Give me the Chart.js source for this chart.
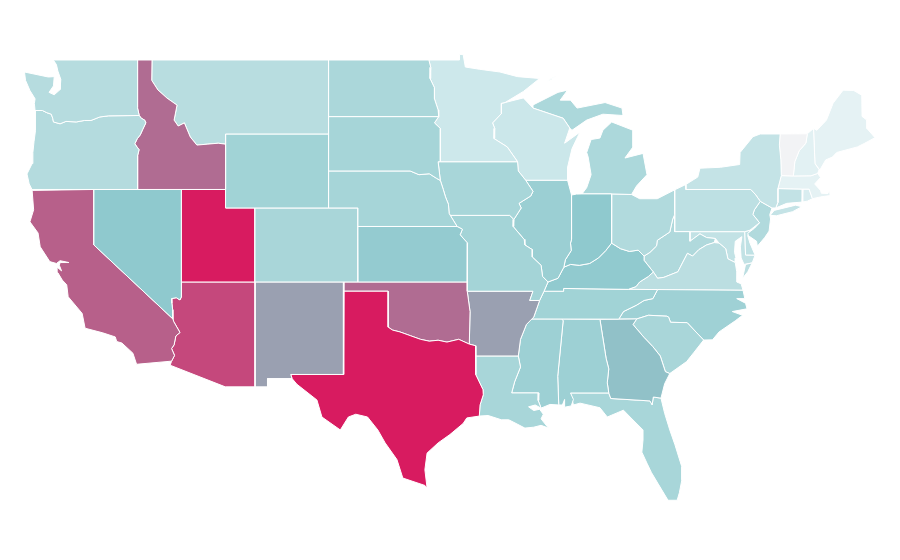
<!DOCTYPE html>
<html>
<head>
<meta charset="utf-8">
<title>US states choropleth</title>
<script src="https://cdn.jsdelivr.net/npm/chart.js@4/dist/chart.umd.min.js"></script>
<style>
  html, body { margin: 0; padding: 0; background: #fff; }
  canvas { display: block; }
</style>
</head>
<body>
<canvas id="map" width="900" height="560"></canvas>
<script>
// State values, estimated from the picture's colours
const stateCodes = ['WA','OR','ID','MT','WY','ND','SD','NE','KS','CO','UT','NV','CA','AZ','NM','TX','OK','MN','IA','MO','AR','LA','WI','IL','IN','MI','OH','KY','TN','MS','AL','GA','FL','SC','NC','VA','WV','PA','NY','VT','NH','ME','MA','CT','RI','NJ','DE','MD'];
const stateValues = [30,31,70,29,42,37,40,40,48,38,100,50,75,85,60,100,70,20,39,41,60,39,21,45,50,36,33,49,42,44,44,52,39,38,43,28,34,27,24,0,11,9,9,25,15,33,26,25];

// Colour scale
const rampStops = [0,10,20,30,40,50,60,70,75,85,100];
const rampColors = ['#f2f3f5','#e4f2f4','#cde8eb','#b6dcdf','#a6d5d8','#8fc9ce','#9aa0b1','#b06c92','#b7608a','#c5487c','#d81b60'];

// Outlines as [longitude, latitude], one list per land part
const WA = [[[-117.03,49],[-122.76,49],[-122.55,48.75],[-122.45,48.4],[-122.25,47.95],[-122.3,47.4],[-122.7,47.12],[-123.05,47.25],[-122.75,47.6],[-122.7,48.1],[-123.1,48.08],[-124.72,48.35],[-124.65,47.9],[-124.35,47.35],[-124,46.9],[-124.05,46.65],[-124.0,46.27],[-123.5,46.27],[-123.2,46.15],[-122.9,46.07],[-122.8,45.85],[-122.75,45.65],[-122.3,45.55],[-121.9,45.68],[-121.2,45.65],[-120.65,45.73],[-120.2,45.73],[-119.6,45.92],[-119.0,45.98],[-116.92,46.0],[-117.04,46.42]]];
const OR = [[[-124.0,46.27],[-123.5,46.27],[-123.2,46.15],[-122.9,46.07],[-122.8,45.85],[-122.75,45.65],[-122.3,45.55],[-121.9,45.68],[-121.2,45.65],[-120.65,45.73],[-120.2,45.73],[-119.6,45.92],[-119.0,45.98],[-116.92,46.0],[-116.78,45.85],[-116.55,45.75],[-116.47,45.6],[-116.68,45.25],[-116.85,44.95],[-117.05,44.75],[-117.22,44.47],[-117.03,44.25],[-116.93,44.15],[-117.03,43.83],[-117.03,42],[-124.21,42],[-124.4,42.3],[-124.55,42.84],[-124.2,43.4],[-124.15,44],[-124.07,44.6],[-123.97,45.2],[-123.95,45.9]]];
const ID = [[[-117.03,49],[-116.05,49],[-116.07,47.9],[-115.65,47.38],[-115.03,46.94],[-114.35,46.56],[-114.55,45.75],[-114.27,45.43],[-113.85,45.6],[-113.45,44.84],[-113.0,44.4],[-112.3,44.45],[-111.55,44.5],[-111.05,44.45],[-111.05,42],[-117.03,42],[-117.03,43.83],[-116.93,44.15],[-117.03,44.25],[-117.22,44.47],[-117.05,44.75],[-116.85,44.95],[-116.68,45.25],[-116.47,45.6],[-116.55,45.75],[-116.78,45.85],[-116.92,46],[-117.04,46.42]]];
const MT = [[[-116.05,49],[-104.05,49],[-104.05,45],[-111.05,45],[-111.05,44.45],[-111.55,44.5],[-112.3,44.45],[-113.0,44.4],[-113.45,44.84],[-113.85,45.6],[-114.27,45.43],[-114.55,45.75],[-114.35,46.56],[-115.03,46.94],[-115.65,47.38],[-116.07,47.9]]];
const WY = [[[-111.05,45],[-104.05,45],[-104.05,41],[-111.05,41]]];
const ND = [[[-104.05,49],[-97.23,49],[-97.1,48.6],[-97.15,48],[-96.85,47.5],[-96.85,46.9],[-96.6,46.3],[-96.56,45.94],[-104.05,45.94]]];
const SD = [[[-104.05,45.94],[-96.56,45.94],[-96.85,45.6],[-96.45,45.3],[-96.45,43.5],[-96.6,43.5],[-96.45,42.49],[-96.7,42.6],[-97.2,42.85],[-97.9,42.8],[-98.5,43],[-104.05,43]]];
const NE = [[[-104.05,43],[-98.5,43],[-97.9,42.8],[-97.2,42.85],[-96.7,42.6],[-96.45,42.49],[-96.25,42],[-96.1,41.6],[-95.9,41.2],[-95.85,40.7],[-95.31,40],[-102.05,40],[-102.05,41],[-104.05,41]]];
const KS = [[[-102.05,40],[-95.31,40],[-94.95,39.85],[-95.1,39.55],[-94.6,39.1],[-94.62,37],[-102.04,37]]];
const CO = [[[-109.05,41],[-102.05,41],[-102.05,37],[-109.05,37]]];
const UT = [[[-114.05,42],[-111.05,42],[-111.05,41],[-109.05,41],[-109.05,37],[-114.05,37]]];
const NV = [[[-120,42],[-114.05,42],[-114.05,36.2],[-114.15,36.03],[-114.4,36.15],[-114.72,36.1],[-114.7,35.85],[-114.65,35.5],[-114.63,35],[-120,39]]];
const CA = [[[-124.2,41.95],[-120,42],[-120,39],[-114.63,35],[-114.57,34.85],[-114.15,34.27],[-114.43,34.08],[-114.55,33.6],[-114.72,33.4],[-114.52,33.03],[-114.72,32.72],[-117.1,32.55],[-117.35,33.15],[-118.1,33.7],[-118.45,33.78],[-118.55,34.03],[-119.4,34.25],[-120.6,34.5],[-120.8,35.3],[-121.75,36.2],[-121.85,36.85],[-122.15,37.1],[-122.45,37.5],[-122.5,37.8],[-122.2,37.6],[-122.35,37.9],[-122.3,38.05],[-121.7,38.05],[-122.3,38.15],[-122.55,38],[-123,38.1],[-123.65,38.9],[-123.8,39.65],[-124.35,40.25],[-124.1,40.9]]];
const AZ = [[[-114.05,37],[-109.05,37],[-109.05,31.33],[-111.07,31.33],[-114.82,32.5],[-114.72,32.72],[-114.52,33.03],[-114.72,33.4],[-114.55,33.6],[-114.43,34.08],[-114.15,34.27],[-114.57,34.85],[-114.63,35],[-114.65,35.5],[-114.7,35.85],[-114.72,36.1],[-114.4,36.15],[-114.15,36.03],[-114.05,36.2]]];
const NM = [[[-109.05,37],[-103,37],[-103.04,32],[-106.62,32],[-106.53,31.78],[-108.2,31.78],[-108.2,31.33],[-109.05,31.33]]];
const OK = [[[-103,37],[-94.62,37],[-94.62,36.5],[-94.43,35.4],[-94.48,33.64],[-95.2,33.9],[-96,33.75],[-96.6,33.85],[-97.2,33.8],[-97.8,33.9],[-98.5,34.1],[-99.2,34.3],[-99.7,34.4],[-100,34.56],[-100,36.5],[-103,36.5]]];
const TX = [[[-103,36.5],[-100,36.5],[-100,34.56],[-99.7,34.4],[-99.2,34.3],[-98.5,34.1],[-97.8,33.9],[-97.2,33.8],[-96.6,33.85],[-96,33.75],[-95.2,33.9],[-94.48,33.64],[-94.04,33.55],[-94.04,33],[-94.04,31.99],[-93.55,31.18],[-93.53,30.9],[-93.75,30.35],[-93.8,29.75],[-94.65,29.65],[-94.9,29.35],[-95.8,28.75],[-96.6,28.3],[-97.35,27.75],[-97.5,26.85],[-97.35,25.86],[-97.5,26],[-99,26.4],[-99.4,27.4],[-100.2,28.3],[-100.7,29],[-101.4,29.7],[-102.2,29.85],[-102.7,29.7],[-103.25,29],[-104.5,29.7],[-104.84,30.62],[-106.2,31.47],[-106.53,31.78],[-106.62,32],[-103.04,32]]];
const MN = [[[-97.23,49],[-95.15,49],[-95.15,49.3],[-94.9,49.3],[-94.75,48.62],[-93.8,48.5],[-92.4,48.35],[-91.2,48.1],[-89.7,48],[-90.8,47.3],[-92.05,46.7],[-92.3,46.66],[-92.3,46.1],[-92.9,45.6],[-92.75,45.3],[-92.8,44.75],[-91.9,44.3],[-91.2,43.5],[-96.45,43.5],[-96.45,45.3],[-96.85,45.6],[-96.56,45.94],[-96.6,46.3],[-96.85,46.9],[-96.85,47.5],[-97.15,48],[-97.1,48.6]]];
const IA = [[[-96.45,43.5],[-91.2,43.5],[-91.15,43],[-90.65,42.5],[-90.15,41.9],[-90.3,41.65],[-91.1,41.25],[-90.95,41],[-91.45,40.38],[-91.73,40.6],[-95.77,40.6],[-95.85,40.7],[-95.9,41.2],[-96.1,41.6],[-96.25,42],[-96.45,42.49],[-96.6,43.5]]];
const MO = [[[-95.77,40.6],[-91.73,40.6],[-91.45,40.38],[-91.5,40],[-90.75,39.3],[-90.7,39],[-90.2,38.75],[-90.2,38.35],[-89.6,37.9],[-89.5,37.3],[-89.13,37],[-89.4,36.5],[-89.7,36],[-90.37,36],[-90.15,36.5],[-94.62,36.5],[-94.62,37],[-94.6,39.1],[-95.1,39.55],[-94.95,39.85],[-95.31,40],[-95.85,40.7]]];
const AR = [[[-94.62,36.5],[-90.15,36.5],[-90.37,36],[-89.7,36],[-90.1,35.1],[-90.6,34.7],[-91,33.9],[-91.15,33],[-94.04,33],[-94.04,33.55],[-94.48,33.64],[-94.43,35.4]]];
const LA = [[[-94.04,33],[-91.15,33],[-91,32.4],[-91.4,31.6],[-91.6,31],[-89.75,31],[-89.8,30.6],[-89.6,30.18],[-90,30.35],[-90.45,30.25],[-90.1,30.05],[-89.7,30.12],[-89.45,29.85],[-89.6,29.6],[-89.1,29.1],[-89.6,29.25],[-90.1,29.15],[-90.7,29.1],[-91.3,29.35],[-91.8,29.55],[-92.3,29.55],[-93.2,29.78],[-93.8,29.75],[-93.75,30.35],[-93.53,30.9],[-93.55,31.18],[-94.04,31.99]]];
const WI = [[[-92.2,46.67],[-90.8,46.95],[-90.15,46.4],[-88.1,45.85],[-87.65,45.32],[-88,44.5],[-86.96,45.1],[-87.5,44.2],[-87.8,43.2],[-87.8,42.5],[-90.65,42.5],[-91.15,43],[-91.2,43.5],[-91.9,44.3],[-92.8,44.75],[-92.75,45.3],[-92.9,45.6],[-92.3,46.1],[-92.3,46.66]]];
const IL = [[[-90.65,42.5],[-87.8,42.5],[-87.53,41.7],[-87.53,39.3],[-87.6,39.1],[-87.55,38.7],[-87.95,38.2],[-88.05,37.8],[-88.45,37.2],[-89.13,37],[-89.5,37.3],[-89.6,37.9],[-90.2,38.35],[-90.2,38.75],[-90.7,39],[-90.75,39.3],[-91.5,40],[-91.45,40.38],[-90.95,41],[-91.1,41.25],[-90.3,41.65],[-90.15,41.9]]];
const IN = [[[-87.53,41.7],[-87.2,41.75],[-86.82,41.76],[-84.8,41.76],[-84.81,39.1],[-85.2,38.7],[-85.7,38.3],[-86.3,38],[-87,37.9],[-87.6,37.95],[-88.05,37.8],[-87.95,38.2],[-87.55,38.7],[-87.6,39.1],[-87.53,39.3]]];
const MI = [
  [[-86.82,41.76],[-86.5,42.1],[-86.2,42.8],[-86.4,43.75],[-86.5,44],[-86.2,44.7],[-85.6,44.78],[-85.4,45.2],[-84.8,45.65],[-83.35,45.2],[-83.35,44.3],[-83.9,43.7],[-82.67,43.95],[-82.4,42.8],[-83.1,42.2],[-83.45,41.73],[-84.8,41.76]],
  [[-90.15,46.57],[-88.45,47.25],[-87.8,47.37],[-88.3,46.83],[-87.6,46.83],[-87.15,46.4],[-85.25,46.7],[-84.1,46.4],[-84.03,46],[-85.4,46.07],[-86.5,45.75],[-87.5,45.2],[-87.65,45.32],[-88.1,45.85],[-90.15,46.4]],
  [[-89.2,47.85],[-88.6,48.15],[-88.9,47.95]]
];
const OH = [[[-84.8,41.76],[-83.45,41.73],[-82.9,41.5],[-81.7,41.5],[-80.52,41.98],[-80.52,40.64],[-80.65,40.4],[-80.85,39.7],[-81.7,39.25],[-81.75,38.95],[-82.2,38.6],[-82.6,38.4],[-83,38.72],[-83.6,38.65],[-84.2,38.8],[-84.81,39.1]]];
const KY = [[[-89.13,37],[-89.4,36.5],[-88.07,36.5],[-88.07,36.65],[-83.67,36.6],[-83.15,36.75],[-82.9,37],[-82.3,37.3],[-81.97,37.54],[-82.6,38.17],[-82.6,38.4],[-83,38.72],[-83.6,38.65],[-84.2,38.8],[-84.81,39.1],[-85.2,38.7],[-85.7,38.3],[-86.3,38],[-87,37.9],[-87.6,37.95],[-88.05,37.8],[-88.45,37.2]]];
const TN = [[[-90.1,35.1],[-89.7,36],[-89.4,36.5],[-88.07,36.5],[-88.07,36.65],[-83.67,36.6],[-81.68,36.59],[-82,36.1],[-82.6,36],[-83.1,35.75],[-84,35.4],[-84.32,34.99],[-90.3,35]]];
const MS = [[[-90.3,35],[-88.2,35],[-88.1,34.9],[-88.47,31.9],[-88.4,30.35],[-89,30.38],[-89.6,30.18],[-89.8,30.6],[-89.75,31],[-91.6,31],[-91.4,31.6],[-91,32.4],[-91.15,33],[-91,33.9],[-90.6,34.7]]];
const AL = [[[-88.2,35],[-85.6,34.98],[-85.18,32.87],[-85,32.3],[-85.1,31.55],[-85,31],[-87.6,31],[-87.4,30.65],[-87.55,30.3],[-88,30.23],[-88,30.65],[-88.15,30.35],[-88.4,30.35],[-88.47,31.9],[-88.1,34.9]]];
const GA = [[[-85.6,34.98],[-84.32,34.99],[-83.1,35],[-83.35,34.7],[-82.6,34],[-82,33.5],[-81.5,33],[-81.15,32.15],[-80.85,32.05],[-81.2,31.5],[-81.45,30.72],[-81.97,30.78],[-82.05,30.36],[-82.2,30.57],[-84.86,30.7],[-85,31],[-85.1,31.55],[-85,32.3],[-85.18,32.87]]];
const FL = [[[-87.6,31],[-85,31],[-84.86,30.7],[-82.2,30.57],[-82.05,30.36],[-81.97,30.78],[-81.45,30.72],[-81.2,29.9],[-80.85,29],[-80.5,28.2],[-80.03,27],[-80.03,26.3],[-80.2,25.6],[-80.35,25.2],[-80.97,25.2],[-81.65,26.1],[-82.1,26.7],[-82.4,27.2],[-82.75,27.8],[-82.67,28.46],[-82.67,29],[-83.55,29.7],[-84,30.07],[-85.1,29.7],[-85.6,30.2],[-86.95,30.45],[-87.4,30.35]]];
const SC = [[[-83.1,35],[-82.3,35.2],[-81.05,35.15],[-80.93,35.1],[-80.8,34.82],[-79.67,34.8],[-78.55,33.86],[-79.2,33.2],[-79.7,32.7],[-80.85,32.05],[-81.15,32.15],[-81.5,33],[-82,33.5],[-82.6,34],[-83.35,34.7]]];
const NC = [[[-84.32,34.99],[-84,35.4],[-83.1,35.75],[-82.6,36],[-82,36.1],[-81.68,36.59],[-75.87,36.55],[-75.75,36.1],[-76.3,36.1],[-75.7,35.85],[-75.6,35.55],[-76.6,35.4],[-75.9,35.2],[-76.4,34.9],[-77.5,34.3],[-77.95,33.87],[-78.55,33.86],[-79.67,34.8],[-80.8,34.82],[-80.93,35.1],[-81.05,35.15],[-82.3,35.2],[-83.1,35]]];
const VA = [
  [[-83.67,36.6],[-81.68,36.59],[-75.87,36.55],[-76,36.9],[-76.3,37],[-76.3,37.55],[-76.4,38.05],[-76.9,38.25],[-77.05,38.8],[-77.5,39.1],[-77.83,39.13],[-78.35,39],[-78.87,38.75],[-79.3,38.4],[-79.65,38.55],[-80.3,37.55],[-81.25,37.25],[-81.68,37.2],[-81.97,37.54],[-82.3,37.3],[-82.9,37],[-83.15,36.75]],
  [[-75.25,38.03],[-75.7,37.95],[-75.9,37.2],[-75.55,37.55]]
];
const WV = [[[-80.52,40.64],[-80.52,39.72],[-79.48,39.72],[-79.48,39.2],[-78.8,39.6],[-78.35,39.4],[-77.75,39.35],[-77.83,39.13],[-78.35,39],[-78.87,38.75],[-79.3,38.4],[-79.65,38.55],[-80.3,37.55],[-81.25,37.25],[-81.68,37.2],[-81.97,37.54],[-82.6,38.17],[-82.6,38.4],[-82.2,38.6],[-81.75,38.95],[-81.7,39.25],[-80.85,39.7],[-80.65,40.4]]];
const MD = [[[-79.48,39.72],[-75.75,39.72],[-75.7,38.46],[-75.05,38.45],[-75.25,38.03],[-75.8,37.95],[-76,38.3],[-76.05,38.9],[-75.95,39.45],[-76.4,39.2],[-76.45,38.6],[-76.35,38.3],[-76.4,38.05],[-76.9,38.25],[-77.05,38.8],[-77.5,39.1],[-77.75,39.35],[-78.35,39.4],[-78.8,39.6],[-79.48,39.2]]];
const DE = [[[-75.75,39.72],[-75.4,39.8],[-75.55,39.5],[-75.4,39.1],[-75.05,38.45],[-75.7,38.46]]];
const PA = [[[-80.52,41.98],[-79.76,42.27],[-79.76,42],[-75.35,42],[-75.05,41.75],[-74.7,41.36],[-75.1,40.9],[-75.2,40.65],[-74.75,40.2],[-75.4,39.8],[-75.75,39.72],[-80.52,39.72]]];
const NY = [
  [[-79.76,42],[-79.76,42.27],[-78.95,42.67],[-78.8,43.15],[-77.4,43.2],[-76.1,43.35],[-76.07,44],[-75.2,44.85],[-74.7,45],[-73.35,45],[-73.4,44.4],[-73.3,43.6],[-73.27,42.75],[-73.5,42.05],[-73.5,41.3],[-73.65,41],[-73.9,41],[-74.7,41.36],[-75.05,41.75],[-75.35,42]],
  [[-74.03,40.6],[-73.75,40.87],[-72.3,41.15],[-71.87,41.07],[-72.5,40.8],[-73.6,40.58]]
];
const NJ = [[[-74.7,41.36],[-73.9,41],[-74.05,40.65],[-74,40.4],[-74.1,39.75],[-74.4,39.4],[-74.9,38.93],[-74.95,39.2],[-75.5,39.5],[-75.55,39.63],[-75.1,39.9],[-74.75,40.2],[-75.2,40.65],[-75.1,40.9]]];
const VT = [[[-73.35,45],[-71.5,45.01],[-71.6,44.5],[-72.05,44.1],[-72.35,43.5],[-72.45,42.73],[-73.27,42.75],[-73.3,43.6],[-73.4,44.4]]];
const NH = [[[-71.5,45.01],[-71.08,45.3],[-70.98,43.4],[-70.7,43.07],[-70.8,42.87],[-71.25,42.74],[-72.45,42.73],[-72.35,43.5],[-72.05,44.1],[-71.6,44.5]]];
const ME = [[[-71.08,45.3],[-70.85,45.2],[-70.2,45.75],[-69.75,46.66],[-69.07,47.37],[-68.35,47.35],[-67.8,47.1],[-67.78,45.95],[-67.45,45.75],[-67.45,45.3],[-66.9,44.8],[-67.6,44.5],[-68.1,44.3],[-69.5,44],[-69.8,43.75],[-70.25,43.6],[-70.65,43.05],[-70.98,43.4]]];
const MA = [[[-73.5,42.05],[-73.27,42.75],[-72.45,42.73],[-71.25,42.74],[-70.8,42.87],[-70.6,42.65],[-71,42.3],[-70.6,41.95],[-70.55,41.8],[-70.1,41.78],[-70,42],[-69.95,41.67],[-70.6,41.6],[-71.15,41.5],[-71.38,42.02],[-71.8,42.02]]];
const CT = [[[-73.5,42.05],[-71.8,42.02],[-71.85,41.32],[-72.9,41.25],[-73.65,41],[-73.5,41.3]]];
const RI = [[[-71.8,42.02],[-71.38,42.02],[-71.15,41.5],[-71.5,41.37],[-71.85,41.32]]];

const stateOutlines = { WA, OR, ID, MT, WY, ND, SD, NE, KS, CO, UT, NV, CA, AZ, NM, TX, OK, MN, IA, MO, AR, LA, WI, IL, IN, MI, OH, KY, TN, MS, AL, GA, FL, SC, NC, VA, WV, PA, NY, VT, NH, ME, MA, CT, RI, NJ, DE, MD };

function hexToRgb(hex) {
  return [1, 3, 5].map(i => parseInt(hex.slice(i, i + 2), 16));
}

function valueColor(value) {
  let i = 0;
  while (i < rampStops.length - 2 && value > rampStops[i + 1]) i++;
  const t = (value - rampStops[i]) / (rampStops[i + 1] - rampStops[i]);
  const a = hexToRgb(rampColors[i]);
  const b = hexToRgb(rampColors[i + 1]);
  const mixed = a.map((c, k) => Math.round(c + (b[k] - c) * t));
  return 'rgb(' + mixed.join(',') + ')';
}

// One closed dataset per land part
const datasets = [];
stateCodes.forEach((code, index) => {
  const color = valueColor(stateValues[index]);
  stateOutlines[code].forEach(part => {
    const points = part.map(p => ({ x: p[0], y: p[1] }));
    points.push(points[0]);
    datasets.push({
      label: code,
      data: points,
      showLine: true,
      fill: 'shape',
      backgroundColor: color,
      borderColor: '#ffffff',
      borderWidth: 1,
      borderJoinStyle: 'round',
      pointRadius: 0,
      tension: 0
    });
  });
});

new Chart(document.getElementById('map'), {
  type: 'scatter',
  data: { datasets: datasets },
  options: {
    responsive: false,
    animation: false,
    layout: { padding: 0 },
    plugins: { legend: { display: false }, tooltip: { enabled: false } },
    scales: {
      x: { type: 'linear', display: false, min: -126.385, max: -65.2 },
      y: { type: 'linear', display: false, min: 21.97, max: 52.243 }
    }
  }
});
</script>
</body>
</html>
